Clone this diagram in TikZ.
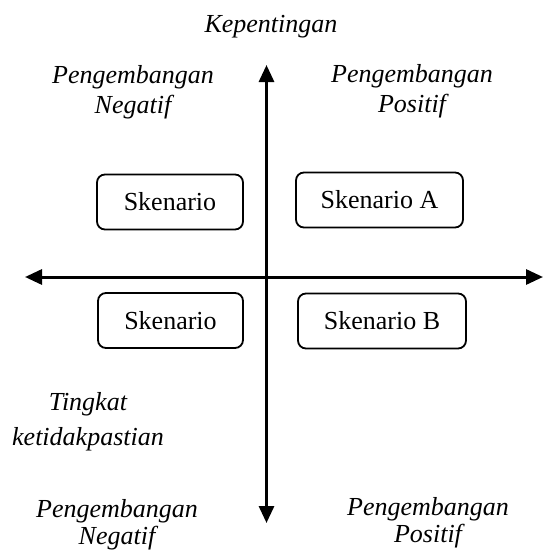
\documentclass[tikz,border=0pt]{standalone}
\usepackage{fontspec}
\setmainfont{Liberation Serif}
\usepackage{tikz}
\usetikzlibrary{positioning,arrows.meta}

\begin{document}
\begin{tikzpicture}[x=1pt, y=-1pt, >={Triangle[length=17pt,width=15pt]},
		font=\fontsize{26}{30}\selectfont,
		skenbox/.style={draw, rounded corners=8pt, line width=1.8pt, minimum height=55pt, inner sep=0pt},
		lbl/.style={font=\fontsize{26}{30}\selectfont\itshape, align=center, inner sep=0pt}]
		\useasboundingbox (0,0) rectangle (544,551);

		\coordinate (top) at (266.5,65);
		\coordinate (bottom) at (266.5,523);
		\coordinate (left) at (25,277);
		\coordinate (right) at (543,277);

		\draw[<->, line width=3pt] (bottom) -- (top);
		\draw[<->, line width=3pt] (left) -- (right);

		\node[skenbox, minimum width=146pt] (skenNW) at (170,202) {Skenario};
		\node[skenbox, minimum width=167pt] (skenA) at (379.5,200) {Skenario A};
		\node[skenbox, minimum width=145pt] (skenSW) at (170.5,320.5) {Skenario};
		\node[skenbox, minimum width=168pt] (skenB) at (382,321) {Skenario B};

		\node[lbl, anchor=base] (kep) at (271,33) {Kepentingan};
		\node[lbl] (negTop) at (133,92) {Pengembangan\\Negatif};
		\node[lbl] (posTop) at (412,91.5) {Pengembangan\\Positif};
		\node[lbl] (ting) at (88,421.5) {Tingkat\\[5pt]ketidakpastian};
		\node[lbl] (negBot) at (117,524.5) {Pengembangan\\[-3pt]Negatif};
		\node[lbl] (posBot) at (428,523) {Pengembangan\\[-3pt]Positif};
	\end{tikzpicture}
\end{document}
